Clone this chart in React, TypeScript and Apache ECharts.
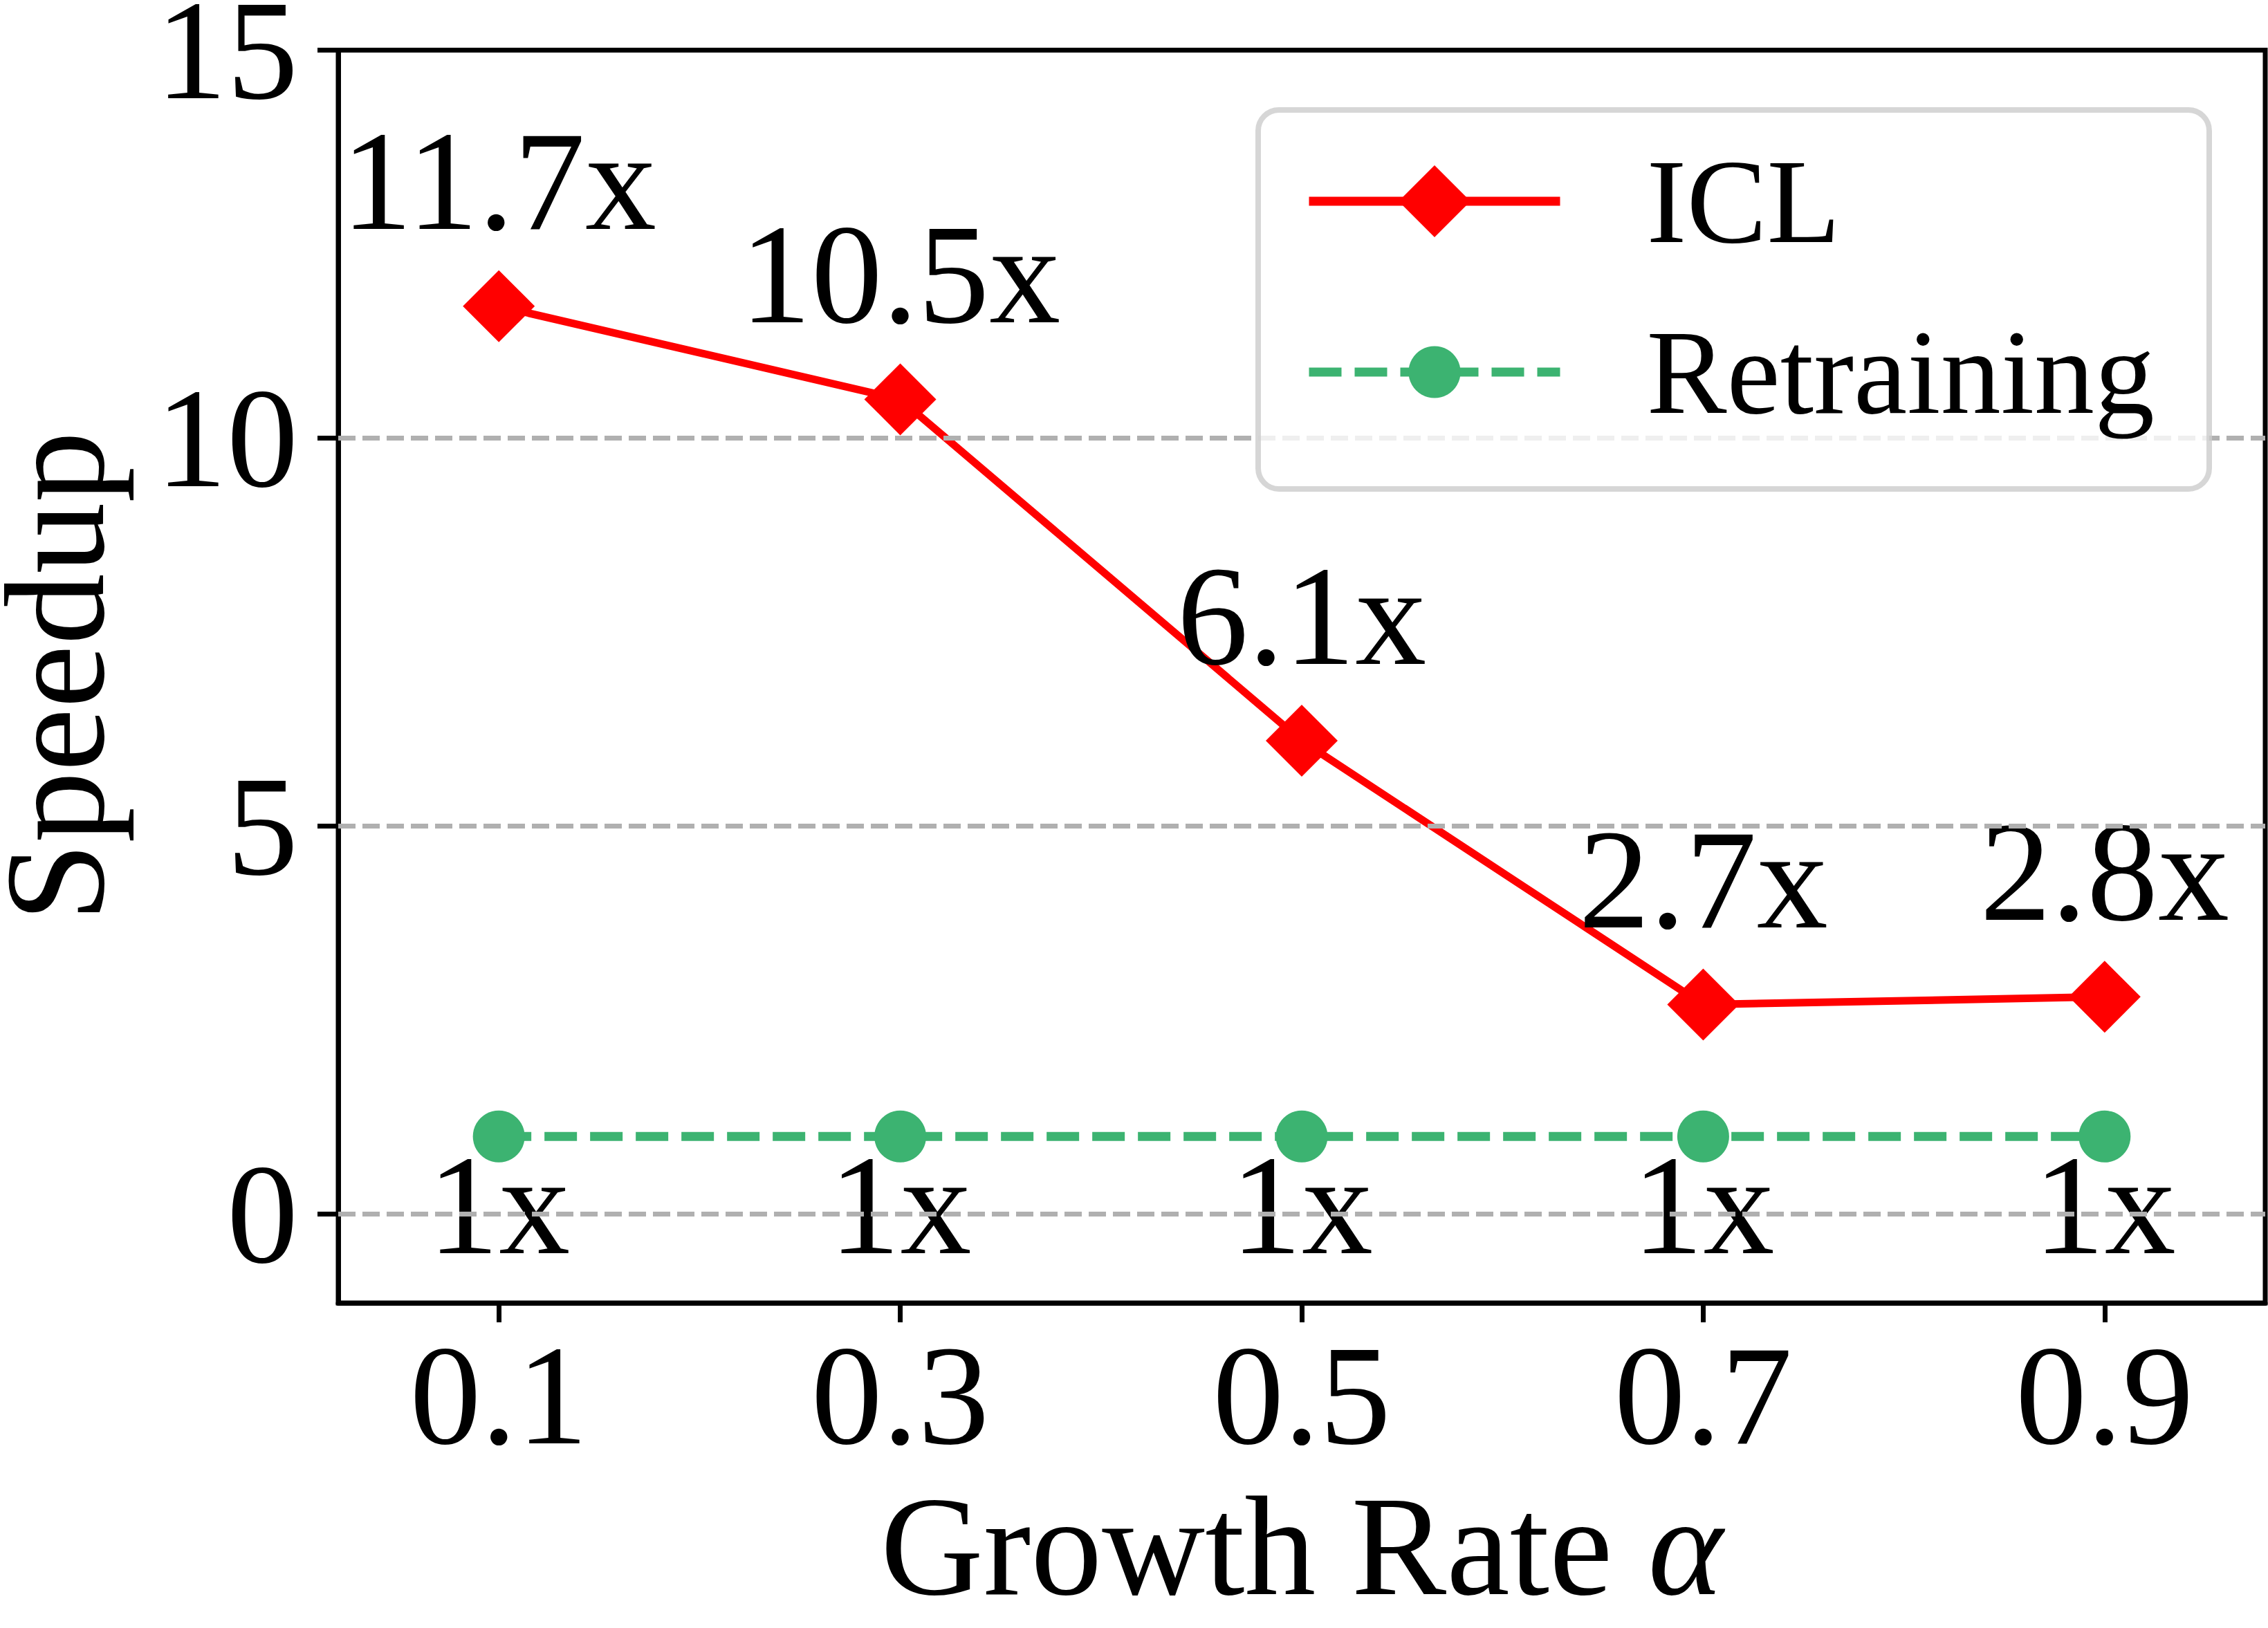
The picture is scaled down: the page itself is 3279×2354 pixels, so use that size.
import React, { useEffect, useRef } from "react";
import * as echarts from "echarts";

const growthRates = [0.1, 0.3, 0.5, 0.7, 0.9];
const iclSpeedup = [11.7, 10.5, 6.1, 2.7, 2.8];
const retrainingSpeedup = [1, 1, 1, 1, 1];
const xTicks = [0.1, 0.3, 0.5, 0.7, 0.9];
const yTicks = [0, 5, 10, 15];
const gridValues = [0, 5, 10];
const seriesNames = ["ICL", "Retraining"];

const W = 3279;
const H = 2354;
const FONT = '"Liberation Serif", "Times New Roman", serif';

export default function App() {
  const ref = useRef<HTMLDivElement>(null);

  useEffect(() => {
    document.body.style.margin = "0";
    document.body.style.overflow = "hidden";
    if (!ref.current) return;
    const chart = echarts.init(ref.current, null, { renderer: "svg", width: W, height: H });

    const option: any = {
      animation: false,
      backgroundColor: "#ffffff",
      grid: {
        show: true,
        left: 489,
        top: 72.5,
        width: 2786,
        height: 1811.5,
        borderColor: "#000000",
        borderWidth: 7,
        backgroundColor: "transparent",
        containLabel: false,
        outerBoundsMode: "none",
      },
      xAxis: {
        type: "value",
        min: 0.02,
        max: 0.98,
        axisLine: { show: true, onZero: false, lineStyle: { color: "#000", width: 7 } },
        axisTick: {
          show: true,
          customValues: xTicks,
          length: 28,
          lineStyle: { color: "#000", width: 7 },
        },
        axisLabel: {
          customValues: xTicks,
          formatter: (v: number) => v.toFixed(1),
          margin: 30,
          fontSize: 206,
          fontFamily: FONT,
          color: "#000",
        },
        splitLine: { show: false },
        name: "Growth Rate {a|α}",
        nameLocation: "middle",
        nameGap: 248,
        nameTextStyle: {
          fontSize: 206,
          fontFamily: FONT,
          color: "#000",
          rich: {
            a: { fontSize: 206, fontFamily: FONT, fontStyle: "italic", color: "#000" },
          },
        },
      },
      yAxis: {
        type: "value",
        min: -1.145,
        max: 15,
        axisLine: { show: true, onZero: false, lineStyle: { color: "#000", width: 7 } },
        axisTick: {
          show: true,
          customValues: yTicks,
          length: 30,
          lineStyle: { color: "#000", width: 7 },
        },
        axisLabel: {
          customValues: yTicks,
          formatter: (v: number) => String(v),
          margin: 58,
          fontSize: 206,
          lineHeight: 140,
          fontFamily: FONT,
          color: "#000",
        },
        splitLine: { show: false },
        name: "Speedup",
        nameLocation: "middle",
        nameRotate: 90,
        nameGap: 335,
        nameTextStyle: { fontSize: 206, lineHeight: 150, fontFamily: FONT, color: "#000" },
      },
      legend: [
        {
          data: [seriesNames[0]],
          left: 1886,
          top: 204,
          padding: 0,
          itemWidth: 363,
          itemHeight: 130,
          selectedMode: false,
          z: 10,
          lineStyle: { width: 13, color: "#ff0000", type: "solid" },
          textStyle: {
            fontSize: 174,
            fontFamily: FONT,
            color: "#000",
            padding: [0, 0, 0, 120],
          },
        },
        {
          data: [seriesNames[1]],
          left: 1886,
          top: 451,
          padding: 0,
          itemWidth: 363,
          itemHeight: 94,
          selectedMode: false,
          z: 10,
          lineStyle: { width: 13, color: "#3cb371", type: [47, 19] },
          textStyle: {
            fontSize: 174,
            fontFamily: FONT,
            color: "#000",
            padding: [0, 0, 0, 120],
          },
        },
      ],
      graphic: [
        {
          type: "rect",
          z: 8,
          silent: true,
          shape: { x: 1819, y: 159, width: 1375, height: 548, r: 30 },
          style: {
            fill: "rgba(255,255,255,0.8)",
            stroke: "rgba(204,204,204,0.8)",
            lineWidth: 8,
          },
        },
      ],
      series: [
        {
          type: "line",
          name: "__grid",
          data: [],
          silent: true,
          z: 1,
          markLine: {
            silent: true,
            symbol: ["none", "none"],
            label: { show: false },
            lineStyle: { color: "#b0b0b0", width: 7, type: [25, 10] },
            data: gridValues.map((v) => ({ yAxis: v })),
          },
        },
        {
          type: "line",
          name: seriesNames[0],
          z: 3,
          data: growthRates.map((x, i) => [x, iclSpeedup[i]]),
          symbol: "diamond",
          symbolSize: 104,
          itemStyle: { color: "#ff0000" },
          lineStyle: { color: "#ff0000", width: 11 },
          label: {
            show: true,
            position: "top",
            distance: 26,
            formatter: (p: any) => p.value[1] + "x",
            fontSize: 206,
            fontFamily: FONT,
            color: "#000",
          },
        },
        {
          type: "line",
          name: seriesNames[1],
          z: 3,
          data: growthRates.map((x, i) => [x, retrainingSpeedup[i]]),
          symbol: "circle",
          symbolSize: 75,
          itemStyle: { color: "#3cb371" },
          lineStyle: { color: "#3cb371", width: 13, type: [47, 19] },
          label: {
            show: true,
            position: "bottom",
            distance: 0,
            offset: [0, -41],
            formatter: (p: any) => p.value[1] + "x",
            fontSize: 206,
            fontFamily: FONT,
            color: "#000",
          },
        },
      ],
    };

    chart.setOption(option);
    return () => {
      chart.dispose();
    };
  }, []);

  return <div ref={ref} style={{ width: W, height: H }} />;
}
